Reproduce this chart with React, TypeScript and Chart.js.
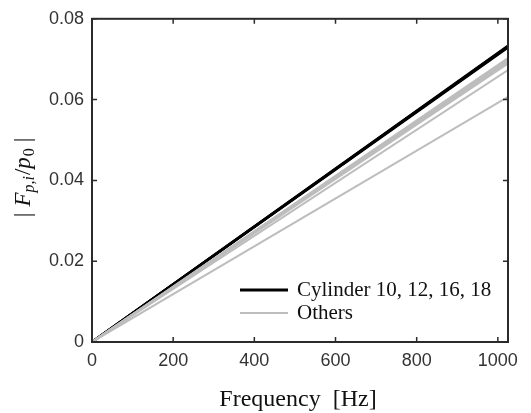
import React, { useEffect, useRef } from "react";
import { Chart, registerables } from "chart.js";
Chart.register(...registerables);

const freqs = [0, 1025];
const blackSeries = [
  [0, 0.0733],
  [0, 0.0731],
  [0, 0.0729],
  [0, 0.0732],
];
const graySeries = [
  [0, 0.0703],
  [0, 0.07],
  [0, 0.0697],
  [0, 0.0693],
  [0, 0.0689],
  [0, 0.0673],
  [0, 0.0607],
];
const xTicks = [0, 200, 400, 600, 800, 1000];
const yTicks = [0, 0.02, 0.04, 0.06, 0.08];
const legendLabels = ["Cylinder 10, 12, 16, 18", "Others"];

const FRAME = "#2b2b2b";
const GRAY = "#bdbdbd";

const decor = {
  id: "decor",
  afterDraw(chart: any) {
    const { ctx, chartArea: a, scales } = chart;
    const xs = scales.x, ys = scales.y;
    ctx.save();
    ctx.strokeStyle = FRAME;
    ctx.lineWidth = 2;
    ctx.strokeRect(a.left, a.top, a.right - a.left, a.bottom - a.top);
    const tl = 5;
    ctx.lineWidth = 1.5;
    ctx.beginPath();
    xTicks.forEach((v) => {
      const px = xs.getPixelForValue(v);
      ctx.moveTo(px, a.bottom); ctx.lineTo(px, a.bottom - tl);
      ctx.moveTo(px, a.top); ctx.lineTo(px, a.top + tl);
    });
    yTicks.forEach((v) => {
      const py = ys.getPixelForValue(v);
      ctx.moveTo(a.left, py); ctx.lineTo(a.left + tl, py);
      ctx.moveTo(a.right, py); ctx.lineTo(a.right - tl, py);
    });
    ctx.stroke();

    // legend
    const lx = a.left + 148, ly1 = 290, ly2 = 313;
    ctx.lineWidth = 3.2; ctx.strokeStyle = "#000";
    ctx.beginPath(); ctx.moveTo(lx, ly1); ctx.lineTo(lx + 48, ly1); ctx.stroke();
    ctx.lineWidth = 2; ctx.strokeStyle = GRAY;
    ctx.beginPath(); ctx.moveTo(lx, ly2); ctx.lineTo(lx + 48, ly2); ctx.stroke();
    ctx.fillStyle = "#111";
    ctx.font = "21px 'Liberation Serif', serif";
    ctx.textBaseline = "middle";
    ctx.textAlign = "left";
    ctx.fillText(legendLabels[0], lx + 57, ly1);
    ctx.fillText(legendLabels[1], lx + 57, ly2);

    // x title
    ctx.font = "24px 'Liberation Serif', serif";
    ctx.textAlign = "center";
    ctx.fillText("Frequency  [Hz]", (a.left + a.right) / 2 - 2, 400);

    // y title
    ctx.translate(24, (a.top + a.bottom) / 2 - 3);
    ctx.rotate(-Math.PI / 2);
    const big = "23px 'Liberation Serif', serif";
    const bigI = "italic 23px 'Liberation Serif', serif";
    const smallI = "italic 16px 'Liberation Serif', serif";
    const small = "16px 'Liberation Serif', serif";
    const parts: [string, string, number, number][] = [
      ["|", big, 0, 6],
      ["F", bigI, 0, 0],
      ["p,i", smallI, 6, 1],
      ["/", big, 0, 0],
      ["p", bigI, 0, 1],
      ["0", small, 6, 6],
      ["|", big, 0, 0],
    ];
    let total = 0;
    parts.forEach(([t, f, , g]) => { ctx.font = f; total += ctx.measureText(t).width + g; });
    let x = -total / 2;
    ctx.textAlign = "left";
    parts.forEach(([t, f, dy, g]) => {
      ctx.font = f;
      ctx.fillText(t, x, dy);
      x += ctx.measureText(t).width + g;
    });
    ctx.restore();
  },
};

export default function App() {
  const ref = useRef<HTMLCanvasElement>(null);
  useEffect(() => {
    document.body.style.margin = "0";
    const datasets: any[] = [];
    graySeries.forEach((s) =>
      datasets.push({
        data: freqs.map((f, i) => ({ x: f, y: s[i] })),
        borderColor: GRAY, borderWidth: 2, pointRadius: 0,
      })
    );
    blackSeries.forEach((s) =>
      datasets.push({
        data: freqs.map((f, i) => ({ x: f, y: s[i] })),
        borderColor: "#000", borderWidth: 2.5, pointRadius: 0,
      })
    );
    const tickFont = { family: "'Liberation Sans', Arial, sans-serif", size: 18 };
    const chart = new Chart(ref.current!, {
      type: "line",
      data: { datasets },
      plugins: [decor],
      options: {
        animation: false,
        responsive: false,
        layout: { padding: { left: 0, top: 14, right: 23, bottom: 0 } },
        plugins: { legend: { display: false }, tooltip: { enabled: false } },
        scales: {
          x: {
            type: "linear", min: 0, max: 1025,
            grid: { display: false, drawTicks: false },
            border: { display: false },
            afterBuildTicks: (s: any) => { s.ticks = xTicks.map((v) => ({ value: v })); },
            afterFit: (s: any) => { s.height = 71; },
            ticks: { font: tickFont, color: "#333", padding: 8, maxRotation: 0, callback: (v: any) => String(v) },
          },
          y: {
            type: "linear", min: 0, max: 0.08,
            grid: { display: false, drawTicks: false },
            border: { display: false },
            afterBuildTicks: (s: any) => { s.ticks = yTicks.map((v) => ({ value: v })); },
            afterFit: (s: any) => { s.width = 92; },
            ticks: { font: tickFont, color: "#333", padding: 8, callback: (v: any) => (v === 0 ? "0" : Number(v).toFixed(2)) },
          },
        },
      },
    });
    return () => chart.destroy();
  }, []);
  return (
    <div style={{ width: 531, height: 413, background: "#fff" }}>
      <canvas ref={ref} width={531} height={413} />
    </div>
  );
}
